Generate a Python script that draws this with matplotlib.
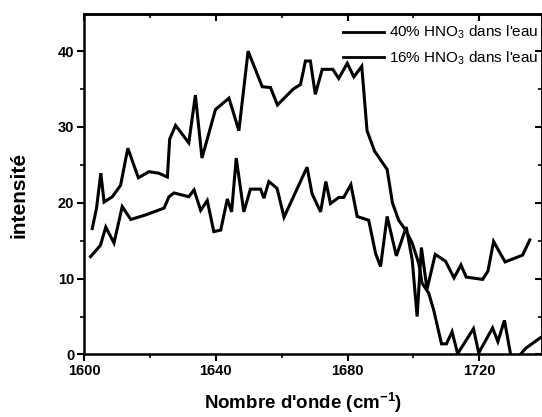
import matplotlib
matplotlib.use("Agg")
import matplotlib.pyplot as plt
from matplotlib.ticker import MultipleLocator

plt.rcParams['font.family'] = ['Liberation Sans', 'DejaVu Sans']
plt.rcParams['mathtext.fontset'] = 'custom'
plt.rcParams['mathtext.rm'] = 'Liberation Sans'
plt.rcParams['mathtext.it'] = 'Liberation Sans:italic'
plt.rcParams['mathtext.bf'] = 'Liberation Sans:bold'

# Series "40% HNO3 dans l'eau"
x40 = [1602.5, 1603.8, 1605.1, 1606.1, 1608.6, 1611.1, 1613.3, 1616.5, 1619.7, 1622.7,
       1625.3, 1626.0, 1627.8, 1631.8, 1633.8, 1635.8, 1639.9, 1644.0, 1647.0, 1649.8,
       1654.1, 1656.6, 1658.7, 1663.5, 1665.7, 1667.2, 1668.7, 1670.2, 1672.3, 1675.5,
       1677.3, 1679.9, 1681.9, 1684.3, 1685.9, 1688.2, 1692.0, 1693.6, 1695.5, 1697.6,
       1699.6, 1701.6, 1702.6, 1704.6, 1706.1, 1708.5, 1710.0, 1711.7, 1713.4, 1718.2,
       1719.8, 1724.0, 1725.6, 1727.6, 1729.6, 1731.5, 1734.0, 1738.5]
y40 = [16.6, 19.3, 23.9, 20.1, 20.8, 22.3, 27.2, 23.3, 24.1, 23.9,
       23.4, 28.4, 30.2, 27.9, 34.2, 25.9, 32.3, 33.8, 29.5, 40.0,
       35.3, 35.2, 32.9, 35.0, 35.6, 38.7, 38.7, 34.3, 37.6, 37.6,
       36.4, 38.4, 36.6, 38.0, 29.5, 26.8, 24.4, 20.0, 17.7, 16.4,
       14.7, 12.0, 9.4, 8.1, 5.9, 1.4, 1.4, 3.0, 0.1, 3.4,
       0.2, 3.5, 1.7, 4.5, -0.3, -0.5, 0.8, 2.2]

# Series "16% HNO3 dans l'eau"
x16 = [1602.0, 1605.0, 1606.6, 1609.1, 1611.6, 1614.2, 1618.7, 1624.3, 1625.8, 1627.3,
       1631.8, 1633.4, 1635.4, 1637.4, 1639.4, 1641.5, 1643.5, 1644.8, 1646.2, 1648.5,
       1650.5, 1653.6, 1654.6, 1656.1, 1658.6, 1660.7, 1667.7, 1669.2, 1671.8, 1673.4,
       1674.8, 1677.3, 1678.8, 1681.0, 1682.9, 1686.4, 1688.5, 1690.0, 1692.0, 1694.8,
       1697.8, 1699.6, 1701.1, 1702.4, 1704.1, 1706.6, 1709.7, 1712.3, 1714.4, 1716.0,
       1721.0, 1722.6, 1724.3, 1727.8, 1733.1, 1735.3]
y16 = [12.9, 14.4, 16.8, 14.7, 19.5, 17.8, 18.4, 19.3, 20.8, 21.3,
       20.8, 21.7, 19.0, 20.3, 16.2, 16.4, 20.5, 18.8, 25.9, 18.8,
       21.8, 21.8, 20.6, 22.8, 21.9, 18.1, 24.7, 21.2, 18.8, 22.8,
       19.9, 20.7, 20.7, 22.4, 18.2, 17.7, 13.3, 11.6, 18.2, 13.0,
       16.8, 12.5, 5.0, 14.1, 8.6, 13.2, 12.3, 10.1, 11.8, 10.2,
       9.9, 11.0, 14.9, 12.2, 13.1, 15.1]

labels = [r"40% HNO$_3$ dans l'eau", r"16% HNO$_3$ dans l'eau"]
xticks = [1600, 1640, 1680, 1720]
yticks = [0, 10, 20, 30, 40]

fig = plt.figure(figsize=(5.42, 4.17), dpi=100)
ax = fig.add_axes([0.155, 0.15, 0.845, 0.8165])

ax.plot(x40, y40, color='black', lw=2.2, label=labels[0], solid_joinstyle='miter')
ax.plot(x16, y16, color='black', lw=2.2, label=labels[1], solid_joinstyle='miter')

ax.set_xlim(1600, 1739)
ax.set_ylim(0, 44.9)
ax.set_xticks(xticks)
ax.set_yticks(yticks)
ax.xaxis.set_minor_locator(MultipleLocator(20))
ax.yaxis.set_minor_locator(MultipleLocator(5))
ax.tick_params(which='major', direction='out', length=5, width=1.5, pad=2, labelsize=10.5)
ax.tick_params(which='minor', direction='out', length=3, width=1.2)
for lab in ax.get_xticklabels() + ax.get_yticklabels():
    lab.set_fontweight('bold')
for s in ax.spines.values():
    s.set_linewidth(1.8)

secx = ax.secondary_xaxis('top')
secx.set_xticks(xticks)
secx.xaxis.set_minor_locator(MultipleLocator(20))
secx.tick_params(which='major', direction='in', length=5, width=1.5, labeltop=False)
secx.tick_params(which='minor', direction='in', length=3, width=1.2)
secx.spines['top'].set_linewidth(1.8)

secy = ax.secondary_yaxis('right')
secy.set_yticks(yticks)
secy.yaxis.set_minor_locator(MultipleLocator(5))
secy.tick_params(which='major', direction='in', length=5, width=1.5, labelright=False)
secy.tick_params(which='minor', direction='in', length=3, width=1.2)
secy.spines['right'].set_linewidth(1.8)

ax.set_xlabel(r"Nombre d'onde (cm$^{\mathbf{-1}}$)", fontsize=13.5, fontweight='bold')
ax.xaxis.set_label_coords(0.478, -0.107)
ax.set_ylabel("intensité", fontsize=15, fontweight='bold')
ax.yaxis.set_label_coords(-0.122, 0.468)

leg = fig.legend(loc='upper left', bbox_to_anchor=(343 / 542, 1 - 24 / 417),
                 frameon=False, fontsize=11, borderpad=0, borderaxespad=0,
                 handlelength=2.7, handletextpad=0.3, labelspacing=0.55)
for ln in leg.get_lines():
    ln.set_linewidth(2.0)

fig.savefig("out.png", dpi=100)
